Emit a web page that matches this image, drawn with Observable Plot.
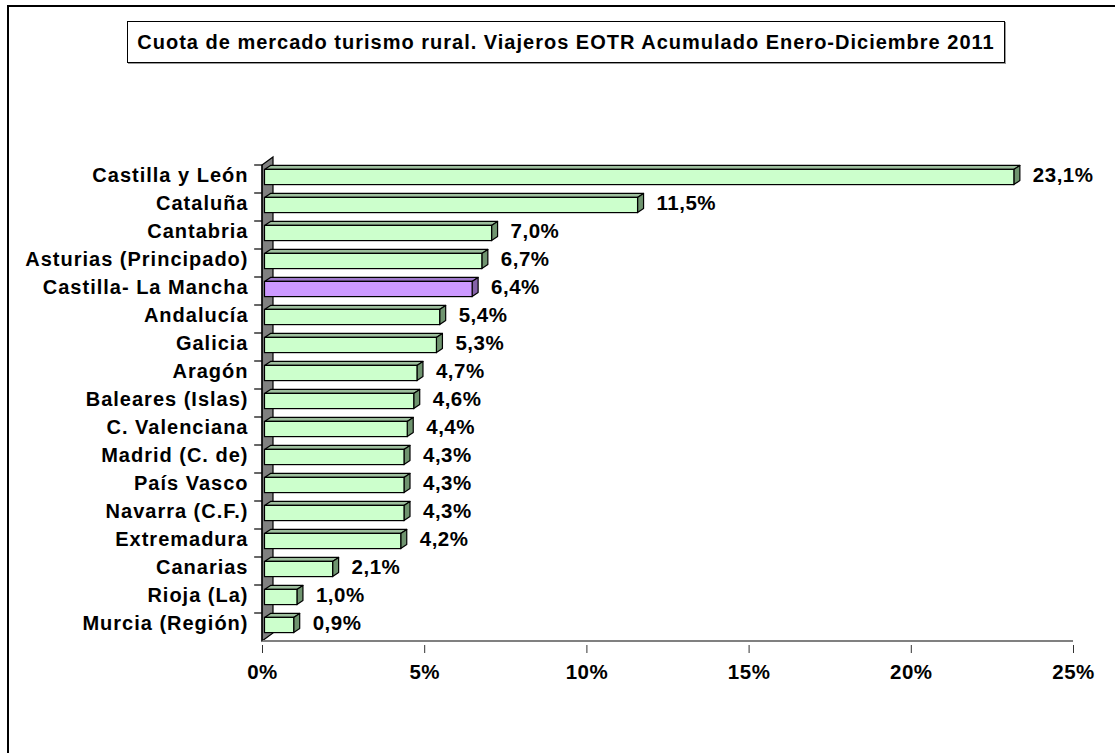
<!DOCTYPE html>
<html><head><meta charset="utf-8">
<script src="https://cdn.jsdelivr.net/npm/d3@7"></script>
<script src="https://cdn.jsdelivr.net/npm/@observablehq/plot@0.6"></script>
<style>
body{margin:0;background:#fff;font-family:"Liberation Sans",Arial,sans-serif;}
#wrap{position:relative;width:1115px;height:753px;overflow:hidden;background:#fff;}
#frame{position:absolute;left:7px;top:5px;width:1300px;height:900px;border-left:2px solid #000;border-top:2px solid #000;}
#chart{position:absolute;left:0;top:0;}
#title{position:absolute;left:127px;top:21px;width:876px;height:40px;border:1.5px solid #000;box-shadow:1px 1px 0 #999;display:flex;align-items:center;justify-content:center;font-weight:bold;font-size:20px;letter-spacing:1px;white-space:nowrap;background:#fff;}
</style></head>
<body>
<div id="wrap">
  <div id="frame"></div>
  <div id="chart"></div>
  <div id="title">Cuota de mercado turismo rural. Viajeros EOTR Acumulado Enero-Diciembre 2011</div>
</div>
<script>
const regions = ["Castilla y León","Cataluña","Cantabria","Asturias (Principado)","Castilla- La Mancha","Andalucía","Galicia","Aragón","Baleares (Islas)","C. Valenciana","Madrid (C. de)","País Vasco","Navarra (C.F.)","Extremadura","Canarias","Rioja (La)","Murcia (Región)"];
const shares = [23.1,11.5,7.0,6.7,6.4,5.4,5.3,4.7,4.6,4.4,4.3,4.3,4.3,4.2,2.1,1.0,0.9];
const highlight = "Castilla- La Mancha";
const xTicks = [0,5,10,15,20,25];

const green = "#ccffcc", greenTop = "#9dbf9d", greenSide = "#6f946f";
const purple = "#cc99ff", purpleTop = "#a07acc", purpleSide = "#8562a8";

const data = regions.map((r, i) => ({region: r, value: shares[i]}));

const inset = 6.4, offX = 2.5, offY = -2, depX = 6, depY = 4;

function decor(index, scales, values, dims) {
  const x = scales.x, y = scales.y, bw = y.bandwidth();
  const g = d3.create("svg:g");
  const x0 = x(0);
  const yTop = y(regions[0]);
  const yBot = y(regions[regions.length - 1]) + bw;
  g.append("path")
    .attr("d", `M${x0},${yTop}L${x0+11},${yTop-8}L${x0+11},${yBot-8}L${x0},${yBot}Z`)
    .attr("fill", "#808080").attr("stroke", "#000").attr("stroke-width", 1.2);
  regions.forEach(r => {
    g.append("line").attr("x1", x0 - 8).attr("x2", x0).attr("y1", y(r)).attr("y2", y(r))
      .attr("stroke", "#000").attr("stroke-width", 1.2);
  });
  data.forEach(d => {
    const hl = d.region === highlight;
    const xl = x(0) + offX, xr = x(d.value) + offX;
    const yt = y(d.region) + inset + offY, yb = y(d.region) + bw - inset + offY;
    g.append("path")
      .attr("d", `M${xl},${yt}L${xl+depX},${yt-depY}L${xr+depX},${yt-depY}L${xr},${yt}Z`)
      .attr("fill", hl ? purpleTop : greenTop).attr("stroke", "#000").attr("stroke-width", 1.2).attr("stroke-linejoin", "round");
    g.append("path")
      .attr("d", `M${xr},${yt}L${xr+depX},${yt-depY}L${xr+depX},${yb-depY}L${xr},${yb}Z`)
      .attr("fill", hl ? purpleSide : greenSide).attr("stroke", "#000").attr("stroke-width", 1.2).attr("stroke-linejoin", "round");
  });
  g.append("line").attr("x1", x0).attr("x2", x(25)).attr("y1", yBot).attr("y2", yBot)
    .attr("stroke", "#808080").attr("stroke-width", 2);
  g.append("line").attr("x1", x0).attr("x2", x0).attr("y1", yTop).attr("y2", yBot)
    .attr("stroke", "#000").attr("stroke-width", 1.2);
  return g.node();
}

const fmt = v => d3.format(".1f")(v).replace(".", ",") + "%";

const chart = Plot.plot({
  width: 1115, height: 753,
  marginLeft: 262, marginRight: 42, marginTop: 160.5, marginBottom: 108,
  style: {fontFamily: '"Liberation Sans", Arial, sans-serif', fontWeight: "bold", fontSize: "20px", color: "#000", background: "transparent", overflow: "visible"},
  x: {domain: [0, 25], ticks: xTicks, tickFormat: d => d + "%", tickSize: 8, tickPadding: 11, label: null},
  y: {domain: regions, padding: 0, tickSize: 0, tickPadding: 14, label: null},
  color: {type: "identity"},
  marks: [
    decor,
    Plot.barX(data, {x: "value", y: "region", fill: d => d.region === highlight ? purple : green,
      stroke: "#000", strokeWidth: 1.2, insetTop: inset, insetBottom: inset, dx: offX, dy: offY}),
    Plot.text(data, {x: "value", y: "region", text: d => fmt(d.value), textAnchor: "start",
      dx: 21, dy: -4, fontSize: 20.5, fontWeight: "bold", fill: "#000"})
  ]
});

const svg = d3.select(chart);
svg.selectAll('g[aria-label^="x-axis"] text').style("font-size", "20.5px").style("letter-spacing", "0.5px");
svg.selectAll('g[aria-label^="y-axis"] text').style("font-size", "20px").style("letter-spacing", "1px").attr("dy", "-0.2em");
svg.selectAll('g[aria-label^="x-axis"] line, g[aria-label^="x-axis"] path').attr("stroke", "#333");
svg.selectAll('g[aria-label="text"] text').style("letter-spacing", "0.5px");
document.getElementById("chart").appendChild(chart);
</script>
</body></html>
